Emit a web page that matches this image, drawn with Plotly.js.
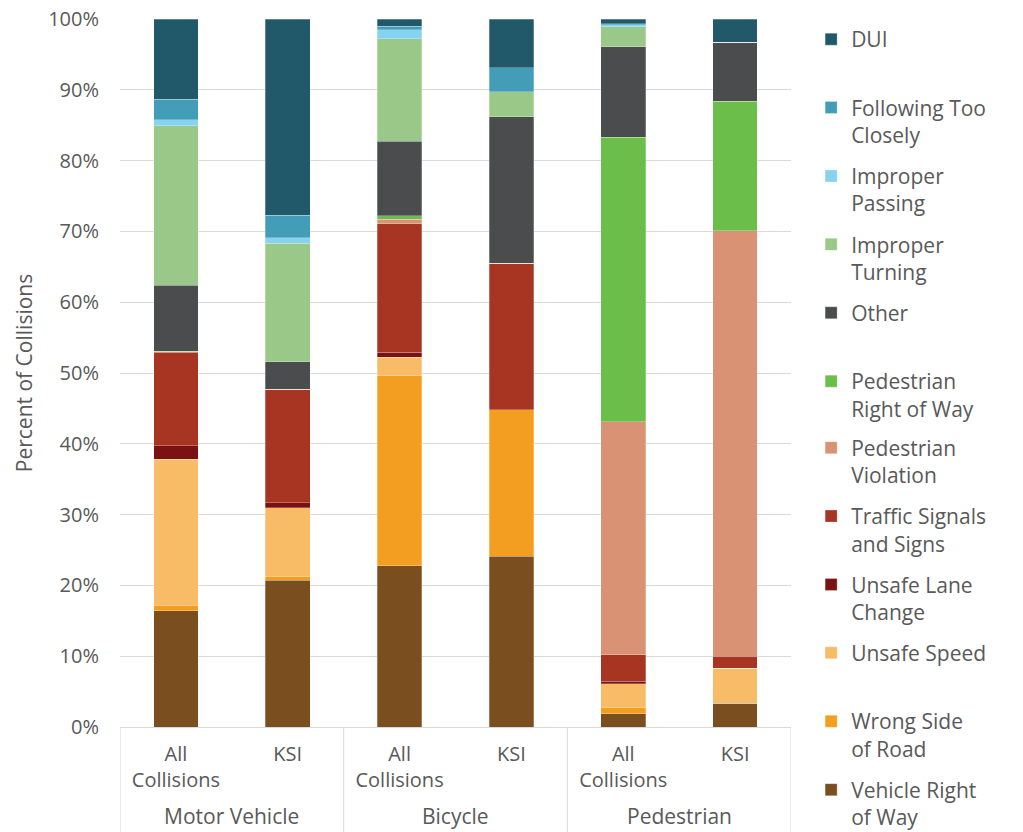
<!DOCTYPE html>
<html>
<head>
<meta charset="utf-8">
<script src="https://cdn.plot.ly/plotly-3.0.1.min.js"></script>
<style>html,body{margin:0;padding:0;background:#fff;}#chart{width:1023px;height:832px;}</style>
</head>
<body>
<div id="chart"></div>
<script>
var groups = ["Motor Vehicle","Motor Vehicle","Bicycle","Bicycle","Pedestrian","Pedestrian"];
var subgroups = ["All<br>Collisions","KSI","All<br>Collisions","KSI","All<br>Collisions","KSI"];

var vehicleRightOfWay    = [16.4, 20.7, 22.8, 24.1, 1.9, 3.35];
var wrongSideOfRoad      = [0.8, 0.6, 26.8, 20.7, 0.8, 0];
var unsafeSpeed          = [20.6, 9.7, 2.6, 0, 3.4, 4.95];
var unsafeLaneChange     = [1.9, 0.7, 0.7, 0, 0.35, 0];
var trafficSignals       = [13.2, 16.0, 18.2, 20.7, 3.75, 1.7];
var pedestrianViolation  = [0.1, 0, 0.6, 0, 32.9, 60.1];
var pedestrianRightOfWay = [0.1, 0, 0.5, 0, 40.2, 18.3];
var other                = [9.3, 3.9, 10.5, 20.7, 12.8, 8.3];
var improperTurning      = [22.5, 16.7, 14.5, 3.5, 2.8, 0];
var improperPassing      = [0.9, 0.8, 1.3, 0, 0.3, 0];
var followingTooClosely  = [2.9, 3.2, 0.5, 3.4, 0.1, 0];
var dui                  = [11.3, 27.7, 1.0, 6.9, 0.7, 3.3];

var seriesNames = ["Vehicle Right<br>of Way","Wrong Side<br>of Road","Unsafe Speed<br> ","Unsafe Lane<br>Change","Traffic Signals<br>and Signs","Pedestrian<br>Violation","Pedestrian<br>Right of Way","Other<br> ","Improper<br>Turning","Improper<br>Passing","Following Too<br>Closely","DUI<br> "];
var seriesValues = [vehicleRightOfWay, wrongSideOfRoad, unsafeSpeed, unsafeLaneChange, trafficSignals, pedestrianViolation, pedestrianRightOfWay, other, improperTurning, improperPassing, followingTooClosely, dui];
var seriesColors = ["#7A4E1F","#F39D21","#F8BC66","#7A1214","#A73522","#D99374","#6BBE4A","#4B4C4E","#9AC888","#85D3F0","#439CB8","#21586A"];

// unique category keys built from the group + subgroup labels
var cats = groups.map(function(g, i){ return g + " | " + subgroups[i]; });

var half = seriesValues.length / 2;
var traces = seriesValues.map(function(v, i){
  return {
    type: "bar",
    name: seriesNames[i],
    legend: i < half ? "legend2" : "legend",
    legendgroup: "g" + i,
    legendrank: seriesValues.length - i,
    x: cats,
    y: v,
    width: 0.4,
    marker: {color: seriesColors[i], line: {color: "rgba(255,255,255,0.45)", width: 0.6}},
    hoverinfo: "skip"
  };
});

// group labels and dividers derived from the groups array
var annotations = [];
var shapes = [];
var start = 0;
for (var i = 1; i <= groups.length; i++) {
  if (i === groups.length || groups[i] !== groups[start]) {
    annotations.push({
      x: (start + i - 1) / 2, xref: "x", y: -0.126, yref: "paper",
      text: groups[start], showarrow: false, yanchor: "middle", xanchor: "center",
      font: {size: 21, color: "#595959"}
    });
    shapes.push({type: "line", xref: "x", yref: "paper", x0: start - 0.5, x1: start - 0.5, y0: 0, y1: -0.16, line: {color: "#d9d9d9", width: 1}});
    start = i;
  }
}
shapes.push({type: "line", xref: "x", yref: "paper", x0: groups.length - 0.5, x1: groups.length - 0.5, y0: 0, y1: -0.16, line: {color: "#d9d9d9", width: 1}});

var legendCommon = {
  xanchor: "left", yanchor: "top",
  traceorder: "grouped", tracegroupgap: 10.8,
  valign: "top",
  font: {size: 21, color: "#595959"},
  itemwidth: 30,
  bgcolor: "rgba(0,0,0,0)"
};

var layout = {
  width: 1023, height: 832,
  barmode: "stack",
  paper_bgcolor: "#ffffff", plot_bgcolor: "#ffffff",
  font: {family: "'Open Sans', sans-serif", color: "#595959", size: 20},
  margin: {l: 120, r: 232, t: 19, b: 105, pad: 0, autoexpand: false},
  xaxis: {
    type: "category",
    range: [-0.5, groups.length - 0.5],
    tickmode: "array", tickvals: cats, ticktext: subgroups,
    showgrid: false,
    showline: true, linecolor: "#d9d9d9", linewidth: 1,
    ticks: "", tickfont: {size: 20, color: "#595959"},
    ticklabelstandoff: 9,
    fixedrange: true
  },
  yaxis: {
    range: [0, 100], dtick: 10, ticksuffix: "%",
    showgrid: true, gridcolor: "#d9d9d9", gridwidth: 1,
    zeroline: false, showline: false, ticks: "",
    ticklabelstandoff: 20,
    tickfont: {size: 20, color: "#595959"},
    title: {text: "Percent of Collisions", font: {size: 21, color: "#595959"}, standoff: 9}
  },
  annotations: annotations,
  shapes: shapes,
  legend: Object.assign({x: 1.03, y: 1.0}, legendCommon),
  legend2: Object.assign({x: 1.03, y: 0.423}, legendCommon),
  showlegend: true
};

Plotly.newPlot("chart", traces, layout, {displayModeBar: false, staticPlot: true});
</script>
</body>
</html>
